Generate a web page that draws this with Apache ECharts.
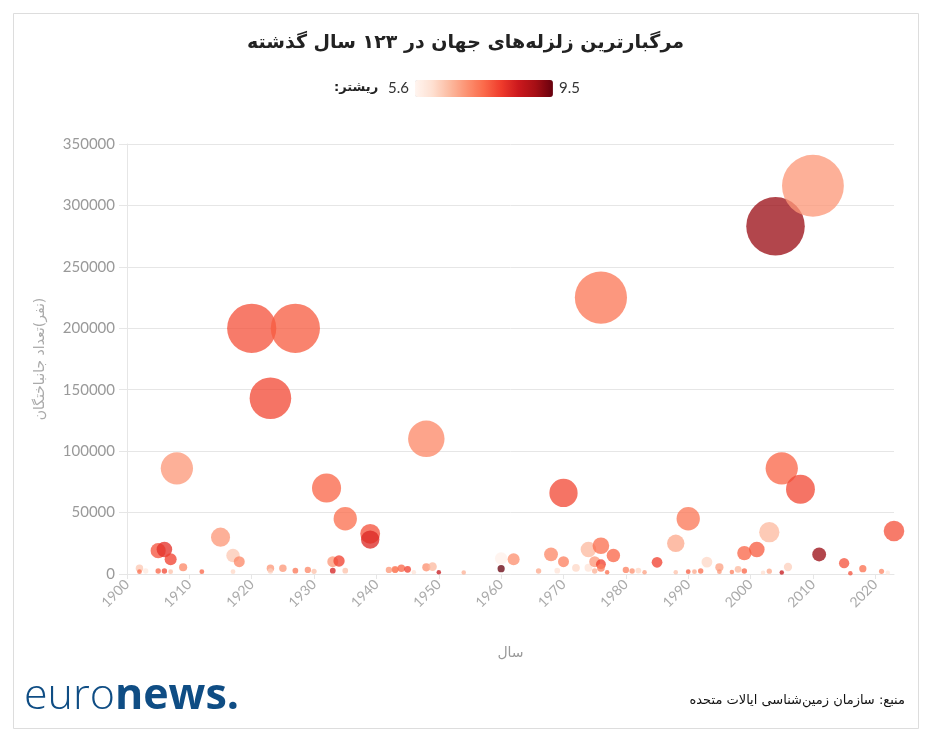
<!DOCTYPE html>
<html>
<head>
<meta charset="utf-8">
<script src="https://cdn.jsdelivr.net/npm/echarts@6/dist/echarts.min.js"></script>
<style>html,body{margin:0;padding:0;background:#fff}#c{width:931px;height:733px}</style>
</head>
<body>
<div id="c"></div>
<script>
// Year of each earthquake
const years = [1902,1902,1903,1905,1905,1906,1906,1907,1907,1908,1909,1912,1915,1917,1917,1918,1920,1923,1923,1923,1925,1927,1927,1929,1930,1932,1933,1933,1934,1935,1935,1939,1939,1942,1943,1943,1944,1945,1946,1948,1948,1949,1950,1954,1960,1960,1962,1966,1968,1969,1970,1970,1972,1974,1974,1975,1975,1976,1976,1976,1976,1977,1978,1980,1981,1982,1983,1985,1988,1988,1990,1990,1991,1992,1993,1995,1995,1997,1998,1999,1999,2001,2002,2003,2003,2004,2005,2005,2006,2008,2010,2011,2015,2016,2018,2021,2022,2023];
// Deaths (people)
const deaths = [4600,1900,2400,2400,19000,20000,2400,1900,12000,86000,5500,1900,30000,15000,1900,10000,200000,143000,4600,2400,4600,200000,2700,3300,2200,70000,10000,2700,10600,45000,2700,32700,28000,3300,3300,3800,4600,3800,1400,110000,5400,6000,1500,1250,4300,12700,12000,2400,16000,2700,66000,10000,5000,20000,5100,10000,2400,225000,23000,8000,5000,1400,15000,3300,2400,2800,1400,9500,1400,25000,45000,1900,1900,2400,9700,5500,1900,1600,3800,2400,17000,20000,1000,2300,34000,283000,1300,86000,5700,69000,316000,15900,8800,700,4300,2200,1000,35000];
// Magnitude (Richter)
const magnitudes = [6.4,7.5,5.9,7.6,7.8,8.2,7.9,6.5,8.0,7.0,7.2,7.6,7.0,6.4,6.2,7.2,7.8,7.9,7.0,6.3,7.0,7.7,7.4,7.2,6.5,7.6,7.0,8.4,8.0,7.5,6.5,7.8,8.3,7.0,7.2,7.3,7.6,8.0,6.0,7.2,7.1,6.6,8.6,6.7,9.5,5.7,7.1,6.8,7.2,6.0,7.9,7.3,6.2,6.6,6.0,7.0,6.7,7.4,7.5,8.0,7.3,7.5,7.6,7.3,7.1,6.2,6.9,8.0,6.5,6.8,7.4,7.7,6.8,7.5,6.2,6.9,7.0,7.3,6.6,7.6,7.6,7.7,6.1,6.8,6.6,9.1,8.6,7.6,6.3,7.9,7.0,9.1,7.8,7.8,7.5,7.2,5.9,7.8];
const xTicks = [1900,1910,1920,1930,1940,1950,1960,1970,1980,1990,2000,2010,2020];
const yTicks = [0,50000,100000,150000,200000,250000,300000,350000];
const magMin = 5.6, magMax = 9.5;

const data = years.map((y, i) => [y, deaths[i], magnitudes[i]]);
const fa = '"DejaVu Sans", sans-serif';
const lat = 'Lato, "Open Sans", sans-serif';

const chart = echarts.init(document.getElementById('c'));
chart.setOption({
  backgroundColor: '#fff',
  animation: false,
  title: {
    text: 'مرگبارترین زلزله‌های جهان در ۱۲۳ سال گذشته',
    left: 'center', top: 29,
    textStyle: { fontFamily: fa, fontSize: 19, fontWeight: 'bold', color: '#222' }
  },
  grid: { left: 127, right: 37, top: 144, bottom: 159 },
  visualMap: {
    type: 'continuous', dimension: 2, seriesIndex: 0,
    min: magMin, max: magMax, orient: 'horizontal',
    left: 373, top: 65, itemWidth: 17, itemHeight: 138,
    text: [String(magMax), String(magMin)], textGap: 6,
    calculable: false, hoverLink: false,
    textStyle: { color: '#333', fontFamily: lat, fontSize: 15 },
    inRange: { color: ['#fff5f0','#fee0d2','#fcbba1','#fc9272','#fb6a4a','#ef3b2c','#cb181d','#a50f15','#67000d'] }
  },
  xAxis: {
    type: 'value', min: 1900, max: 2023, interval: 10,
    name: 'سال', nameLocation: 'middle', nameGap: 72,
    nameTextStyle: { fontFamily: fa, fontSize: 14, color: '#999' },
    axisLine: { show: true, lineStyle: { color: '#e6e6e6', width: 1 } },
    axisTick: { show: true, length: 5, lineStyle: { color: '#e6e6e6' }, customValues: xTicks },
    axisLabel: { rotate: 45, color: '#aaa', fontFamily: lat, fontSize: 14, margin: 8, customValues: xTicks, formatter: v => String(v) },
    splitLine: { show: false }
  },
  yAxis: {
    type: 'value', min: 0, max: 350000, interval: 50000,
    name: '\u200F(نفر)تعداد جانباختگان', nameLocation: 'middle', nameGap: 80, nameRotate: 90,
    nameTextStyle: { fontFamily: fa, fontSize: 14, color: '#aaa' },
    axisLine: { show: true, lineStyle: { color: '#e6e6e6', width: 1 } },
    axisTick: { show: true, length: 8, lineStyle: { color: '#e6e6e6' } },
    axisLabel: { color: '#999', fontFamily: lat, fontSize: 15, margin: 12, formatter: v => String(v), customValues: yTicks },
    splitLine: { show: true, lineStyle: { color: '#e6e6e6', width: 1 } }
  },
  series: [{
    type: 'scatter',
    data: data,
    symbolSize: v => Math.max(4.5, Math.sqrt(v[1]) * 0.11),
    itemStyle: { opacity: 0.76 },
    emphasis: { disabled: true }
  }],
  graphic: [
    { type: 'rect', silent: true, shape: { x: 13.5, y: 13.5, width: 905, height: 715 },
      style: { fill: 'none', stroke: '#dddddd', lineWidth: 1 } },
    { type: 'text', left: 334, top: 81,
      style: { text: 'ریشتر:\u200F', font: 'bold 13px "DejaVu Sans"', fill: '#222' } },
    { type: 'text', right: 26, top: 694,
      style: { text: 'منبع: سازمان زمین‌شناسی ایالات متحده', font: '13px "DejaVu Sans"', fill: '#111' } },
    { type: 'text', left: 24, top: 675,
      style: {
        text: '{a|euro}{b|news}{c|.}',
        rich: {
          a: { fontFamily: 'Open Sans', fontWeight: 300, fontSize: 43, fill: '#0f4d84' },
          b: { fontFamily: 'Open Sans', fontWeight: 'bold', fontSize: 43, fill: '#0f4d84' },
          c: { fontFamily: 'Open Sans', fontWeight: 'bold', fontSize: 43, fill: '#0f4d84' }
        }
      } }
  ]
});
</script>
</body>
</html>
